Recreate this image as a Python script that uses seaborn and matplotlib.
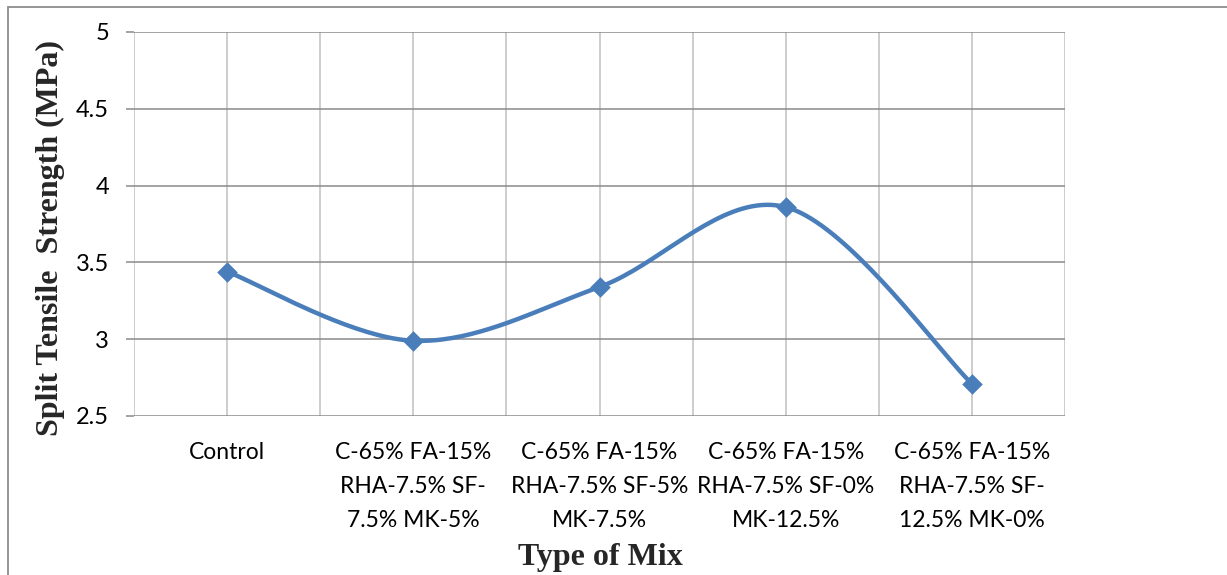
import numpy as np
import pandas as pd
import matplotlib
matplotlib.use("Agg")
import matplotlib.pyplot as plt
from matplotlib.patches import Rectangle
import seaborn as sns

# Mix designs and measured split tensile strength (MPa)
mixes = [
    "Control",
    "C-65% FA-15%\nRHA-7.5% SF-\n7.5% MK-5%",
    "C-65% FA-15%\nRHA-7.5% SF-5%\nMK-7.5%",
    "C-65% FA-15%\nRHA-7.5% SF-0%\nMK-12.5%",
    "C-65% FA-15%\nRHA-7.5% SF-\n12.5% MK-0%",
]
strength = [3.44, 2.99, 3.34, 3.86, 2.71]
y_ticks = [2.5, 3, 3.5, 4, 4.5, 5]
y_tick_labels = ["2.5", "3", "3.5", "4", "4.5", "5"]

sns.set_theme(style="white")
plt.rcParams["font.family"] = ["Lato", "DejaVu Sans"]

LINE_BLUE = "#4A7EBB"


def smooth_curve(xs, ys, n=40):
    """Cubic Bezier smoothing through every point (Catmull-Rom style)."""
    p = np.column_stack([xs, ys]).astype(float)
    ext = np.vstack([p[0], p, p[-1]])
    t = np.linspace(0, 1, n)[:, None]
    out = []
    for i in range(len(p) - 1):
        p0, p3 = ext[i + 1], ext[i + 2]
        c1 = p0 + (ext[i + 2] - ext[i]) / 6.0
        c2 = p3 - (ext[i + 3] - ext[i + 1]) / 6.0
        seg = ((1 - t) ** 3) * p0 + 3 * ((1 - t) ** 2) * t * c1 + 3 * (1 - t) * t ** 2 * c2 + t ** 3 * p3
        out.append(seg if i == 0 else seg[1:])
    return np.vstack(out)


pos = np.arange(len(mixes))
df = pd.DataFrame({"pos": pos, "strength": strength})
curve = smooth_curve(pos, strength)
curve_df = pd.DataFrame({"pos": curve[:, 0], "strength": curve[:, 1]})

fig = plt.figure(figsize=(12.27, 5.75), dpi=100)
ax = fig.add_axes([134 / 1227, 1 - 416 / 575, (1065 - 134) / 1227, (416 - 32) / 575])

# chart frame
fig.patches.append(Rectangle((8 / 1227, -0.1), 1.2, 0.1 + 1 - 7 / 575,
                             transform=fig.transFigure, fill=False,
                             edgecolor="#8c8c8c", linewidth=1.3, zorder=0))

# gridlines: vertical at category centres and boundaries, horizontal at ticks
for xv in np.arange(-0.5, len(mixes), 0.5):
    ax.axvline(xv, color="#c0c0c0", linewidth=1.1, zorder=1)
for yv in y_ticks:
    ax.axhline(yv, color="#8a8a8a", linewidth=1.1, zorder=1)

sns.lineplot(data=curve_df, x="pos", y="strength", ax=ax, color=LINE_BLUE,
             linewidth=3.2, sort=False, estimator=None, zorder=3)
sns.scatterplot(data=df, x="pos", y="strength", ax=ax, marker="D", s=110,
                color=LINE_BLUE, edgecolor=LINE_BLUE, linewidth=0, zorder=4)

ax.set_xlim(-0.5, len(mixes) - 0.5)
ax.set_ylim(2.5, 5)
ax.set_yticks(y_ticks)
ax.set_yticklabels(y_tick_labels)
ax.set_xticks(pos)
ax.set_xticklabels(mixes, linespacing=1.75)

for sp in ax.spines.values():
    sp.set_visible(False)

ax.tick_params(axis="y", which="major", left=True, length=6, width=1.1,
               color="#8a8a8a", pad=12, labelsize=17, labelcolor="black")
ax.tick_params(axis="x", which="major", bottom=False, length=0, pad=19,
               labelsize=16.5, labelcolor="black")
for lbl in ax.get_xticklabels():
    lbl.set_verticalalignment("top")
    lbl.set_horizontalalignment("center")

ax.set_xlabel("")
ax.set_ylabel("")
fig.text(600 / 1227, 1 - 557 / 575, "Type of Mix", ha="center", va="center",
         family="Liberation Serif", fontweight="bold", fontsize=23)
fig.text(50 / 1227, 1 - 238 / 575, "Split Tensile  Strength (MPa)", ha="center",
         va="center", rotation=90, family="Liberation Serif", fontweight="bold",
         fontsize=23)

fig.savefig("out.png", dpi=100, facecolor="white")
